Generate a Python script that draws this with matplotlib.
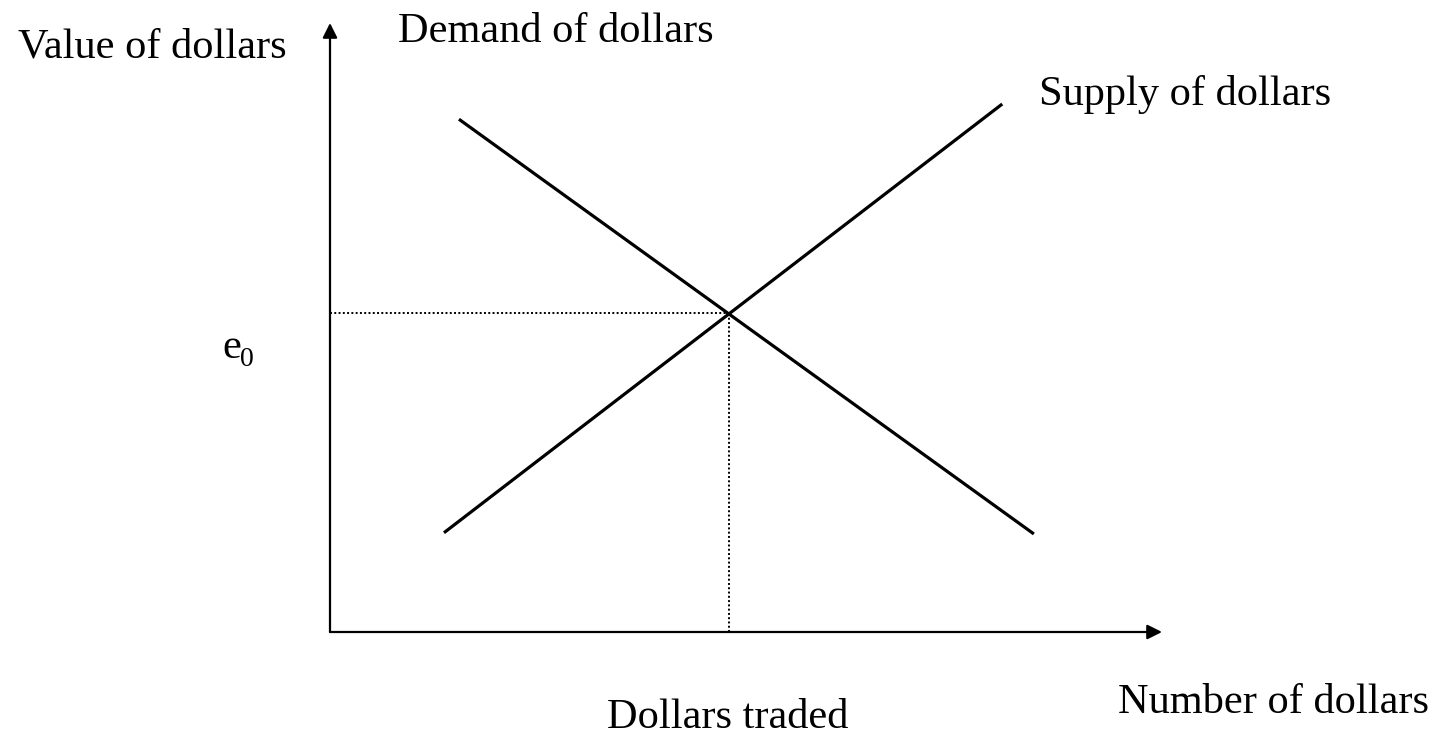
import matplotlib
matplotlib.use('Agg')
import matplotlib.pyplot as plt

# 需求/供给曲线 (数量, 价值) 端点
demand_q = [1.55, 8.46]
demand_v = [8.42, 1.61]
supply_q = [1.37, 8.08]
supply_v = [1.63, 8.67]
eq_q = 4.79   # 均衡数量
eq_e = 5.24   # 均衡汇率 e0

W, H = 1439, 735
plt.rcParams['font.family'] = ['Liberation Serif', 'DejaVu Serif']
fig = plt.figure(figsize=(W / 100, H / 100), dpi=100)
# 坐标原点 (330, 632)，箭头终点 x=1162, y=23
ax = fig.add_axes([330 / W, (H - 632) / H, (1162 - 330) / W, (632 - 23) / H])
ax.set_xlim(0, 10)
ax.set_ylim(0, 10)
ax.axis('off')

# 坐标轴箭头
arrow = dict(arrowstyle='-|>', lw=1.6, color='black', mutation_scale=22, shrinkA=0, shrinkB=0)
ax.annotate('', xy=(10, 0), xytext=(0, 0), arrowprops=arrow)
ax.annotate('', xy=(0, 10), xytext=(0, 0), arrowprops=arrow)

ax.plot(demand_q, demand_v, color='black', lw=2.3, solid_capstyle='butt')
ax.plot(supply_q, supply_v, color='black', lw=2.3, solid_capstyle='butt')

# 虚线
ax.plot([0, eq_q], [eq_e, eq_e], color='black', lw=1.4, linestyle=(0, (1, 1.2)))
ax.plot([eq_q, eq_q], [0, eq_e], color='black', lw=1.4, linestyle=(0, (1, 1.2)))

fs = 30.5
def txt(x, y, s, size=fs):
    fig.text(x / W, 1 - y / H, s, fontsize=size, va='baseline', ha='left')

txt(18, 58, 'Value of dollars')
txt(398, 42, 'Demand of dollars')
txt(1039, 105, 'Supply of dollars')
txt(1118, 713, 'Number of dollars')
txt(607, 728, 'Dollars traded')
txt(222, 358, 'e')
txt(240, 366, '0', size=20)

plt.savefig('out.png', dpi=100)
